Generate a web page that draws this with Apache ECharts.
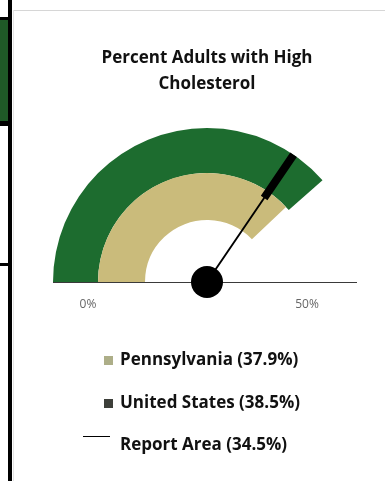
<!DOCTYPE html>
<html>
<head>
<meta charset="utf-8">
<script src="https://cdn.jsdelivr.net/npm/echarts@6/dist/echarts.min.js"></script>
<style>
  html, body { margin: 0; padding: 0; background: #ffffff; }
  #chart { width: 385px; height: 481px; }
</style>
</head>
<body>
<div id="chart"></div>
<script>
// Gauge scale and readings (percent of adults)
const scaleMin = 0;
const scaleMax = 50;
const tickLabels = ['0%', '50%'];
const seriesNames = ['Pennsylvania', 'United States', 'Report Area'];
const seriesValues = [37.9, 38.5, 34.5];

const cx = 207, cy = 282;
const font = '"Open Sans", sans-serif';

const chart = echarts.init(document.getElementById('chart'), null, { renderer: 'canvas' });

function baseGauge(name, value, radius) {
  return {
    type: 'gauge',
    name: name,
    center: [cx, cy],
    radius: radius,
    startAngle: 180,
    endAngle: 0,
    min: scaleMin,
    max: scaleMax,
    axisLine: { show: false },
    splitLine: { show: false },
    axisTick: { show: false },
    axisLabel: { show: false },
    title: { show: false },
    detail: { show: false },
    pointer: { show: false },
    anchor: { show: false },
    animation: false,
    data: [{ value: value, name: name }]
  };
}

const paSeries = baseGauge(seriesNames[0], seriesValues[0], 109);
paSeries.progress = { show: true, width: 47, itemStyle: { color: '#cabb7b' } };

const usSeries = baseGauge(seriesNames[1], seriesValues[1], 154);
usSeries.progress = { show: true, width: 45, itemStyle: { color: '#1d6c2f' } };

// Needle: thin shaft with a thick tip across the outer rings
const ra = baseGauge(seriesNames[2], seriesValues[2], 154);
ra.z = 5;
ra.pointer = {
  show: true,
  icon: 'path://M0,0H10V34H6.2V100H3.8V34H0Z',
  length: 154,
  width: 8,
  offsetCenter: [0, 0],
  keepAspect: false,
  itemStyle: { color: '#000000' }
};
ra.anchor = { show: true, showAbove: true, size: 32, itemStyle: { color: '#000000' } };
ra.itemStyle = { color: '#000000' };

const legendText = {};
seriesNames.forEach((n, i) => { legendText[n] = n + ' (' + seriesValues[i].toFixed(1) + '%)'; });
const legendTextStyle = { fontFamily: font, fontWeight: 'bold', fontSize: 17, color: '#111111', padding: [0, 0, 0, 2] };

chart.setOption({
  backgroundColor: '#ffffff',
  title: {
    text: 'Percent Adults with High\nCholesterol',
    left: 202,
    textAlign: 'center',
    top: 40,
    textStyle: { fontFamily: font, fontWeight: 'bold', fontSize: 17, lineHeight: 26, color: '#111111' }
  },
  legend: [
    {
      data: [{ name: seriesNames[0], icon: 'rect', itemStyle: { color: '#adae88' } }],
      left: 99, top: 347, itemWidth: 9, itemHeight: 9,
      formatter: n => legendText[n], textStyle: legendTextStyle, selectedMode: false
    },
    {
      data: [{ name: seriesNames[1], icon: 'rect', itemStyle: { color: '#3d3f3a' } }],
      left: 99, top: 390, itemWidth: 9, itemHeight: 9,
      formatter: n => legendText[n], textStyle: legendTextStyle, selectedMode: false
    },
    {
      data: [{ name: seriesNames[2], icon: 'path://M0,0H30V1H0Z M0,21H0.01V21.01H0Z', itemStyle: { color: '#000000' } }],
      left: 78, top: 431, itemWidth: 27, itemHeight: 21,
      formatter: n => legendText[n], textStyle: Object.assign({}, legendTextStyle, { padding: [0, 0, 0, 5] }), selectedMode: false
    }
  ],
  graphic: [
    // side panel edge
    { type: 'rect', shape: { x: 0, y: 20, width: 8, height: 101 }, style: { fill: '#1f5a27' }, silent: true },
    { type: 'rect', shape: { x: 0, y: 17, width: 10, height: 3 }, style: { fill: '#000000' }, silent: true },
    { type: 'rect', shape: { x: 0, y: 121, width: 10, height: 5 }, style: { fill: '#000000' }, silent: true },
    { type: 'rect', shape: { x: 0, y: 263, width: 10, height: 3 }, style: { fill: '#000000' }, silent: true },
    { type: 'rect', shape: { x: 8, y: 0, width: 4, height: 481 }, style: { fill: '#000000' }, silent: true },
    // chart frame
    { type: 'line', shape: { x1: 13, y1: 10.5, x2: 385, y2: 10.5 }, style: { stroke: '#d6d6d6', lineWidth: 1 }, silent: true },
    { type: 'line', shape: { x1: 13.5, y1: 10, x2: 13.5, y2: 481 }, style: { stroke: '#e4e4e4', lineWidth: 1 }, silent: true },
    // gauge baseline
    { type: 'line', shape: { x1: 53, y1: cy + 0.5, x2: 357, y2: cy + 0.5 }, style: { stroke: '#3a3a3a', lineWidth: 1.2 }, z: 1, silent: true },
    // scale end labels
    { type: 'text', x: 88, y: 305, style: { text: tickLabels[0], fontFamily: font, fontSize: 12, fill: '#666666', align: 'center', verticalAlign: 'middle' }, silent: true },
    { type: 'text', x: 307, y: 305, style: { text: tickLabels[1], fontFamily: font, fontSize: 12, fill: '#666666', align: 'center', verticalAlign: 'middle' }, silent: true }
  ],
  series: [usSeries, paSeries, ra]
});
</script>
</body>
</html>
